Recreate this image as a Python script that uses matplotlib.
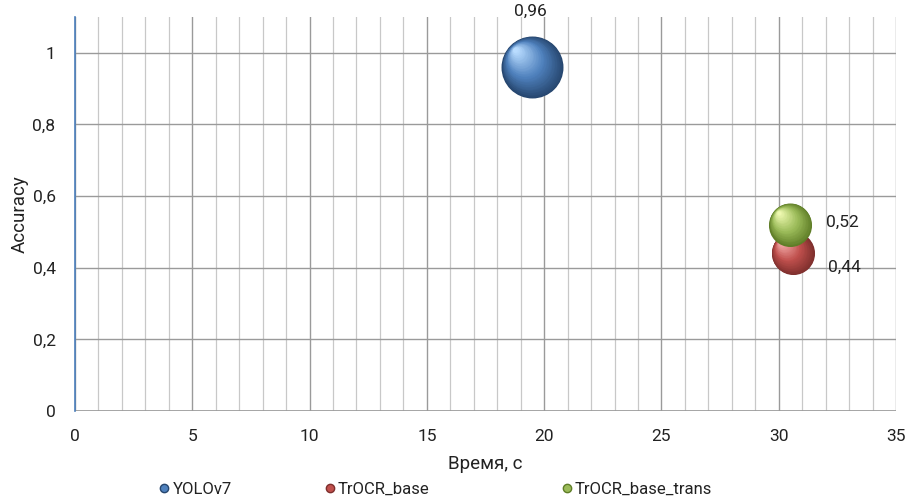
import numpy as np
import matplotlib.pyplot as plt
import matplotlib.transforms as mtransforms
from matplotlib.colors import to_rgb
from matplotlib.lines import Line2D
from matplotlib.ticker import FuncFormatter, MultipleLocator

plt.rcParams['font.family'] = ['Roboto', 'DejaVu Sans']

# models: time (s), accuracy, bubble size
models = ['YOLOv7', 'TrOCR_base', 'TrOCR_base_trans']
time_s = [19.5, 30.6, 30.5]
accuracy = [0.96, 0.44, 0.52]
bubble = [1990, 960, 960]

base_col = ['#4f81bd', '#c0504d', '#9bbb59']
dark_col = ['#26466e', '#7e2f2d', '#5f7d27']
light_col = ['#b9dcff', '#f6b0ae', '#eef9b0']


def mix(c1, c2, t):
    a, b = np.array(to_rgb(c1)), np.array(to_rgb(c2))
    return tuple(a + (b - a) * t)


fig = plt.figure(figsize=(9.12, 4.99), dpi=100)
ax = fig.add_axes([0.0822, 0.1764, 0.9003, 0.7896])

ax.set_xlim(0, 35)
ax.set_ylim(0, 1.1)
ax.xaxis.set_major_locator(MultipleLocator(5))
ax.xaxis.set_minor_locator(MultipleLocator(1))
ax.yaxis.set_major_locator(MultipleLocator(0.2))
ax.grid(which='minor', axis='x', color='#c8c8c8', lw=0.9)
ax.grid(which='major', axis='x', color='#9a9a9a', lw=1.0)
ax.grid(which='major', axis='y', color='#9a9a9a', lw=1.0)
ax.set_axisbelow(True)
ax.tick_params(which='both', length=0)
ax.tick_params(axis='x', labelsize=12.5, colors='#222222', pad=13)
ax.tick_params(axis='y', labelsize=12.5, colors='#222222', pad=14)

ax.yaxis.set_major_formatter(FuncFormatter(
    lambda v, p: ('%.1f' % v).rstrip('0').rstrip('.').replace('.', ',')))

for side in ['top', 'right', 'bottom']:
    ax.spines[side].set_visible(False)
ax.spines['left'].set_color('#4a7ebb')
ax.spines['left'].set_linewidth(1.2)
ax.axhline(0, color='#9a9a9a', lw=1.2, zorder=1)

ax.set_xlabel('Время, с', fontsize=13.5, color='#222222', labelpad=8)
ax.set_ylabel('Accuracy', fontsize=13.5, color='#222222', labelpad=3)

# shaded spheres: stacked discs shrinking toward an upper-left highlight
n = 40
for i in range(len(models)):
    r_pt = np.sqrt(bubble[i]) / 2
    for k in range(n):
        t = k / (n - 1)
        size = bubble[i] * (1 - 0.92 * t) ** 2
        r_k = np.sqrt(size) / 2
        shift = (r_pt - r_k) * 0.75
        off = mtransforms.offset_copy(ax.transData, fig=fig,
                                      x=-shift * 0.8, y=shift * 0.8, units='points')
        if t < 0.45:
            col = mix(dark_col[i], base_col[i], t / 0.45)
        else:
            col = mix(base_col[i], light_col[i], (t - 0.45) / 0.55)
        ax.scatter(time_s[i], accuracy[i], s=size, color=col, lw=0,
                   transform=off, zorder=3 + i * 0.01 + t * 0.001)

# data labels
lab = [(-0.1, 0.155, 'center'), (1.5, -0.04, 'left'), (1.5, 0.007, 'left')]
for i in range(len(models)):
    dx, dy, ha = lab[i]
    ax.text(time_s[i] + dx, accuracy[i] + dy, ('%.2f' % accuracy[i]).replace('.', ','),
            fontsize=12.5, color='#222222', ha=ha, va='center', zorder=5)

# legend entries placed one by one along the bottom
leg_x = [0.173, 0.354, 0.614]
for i in range(len(models)):
    h = Line2D([], [], marker='o', ls='', markersize=6,
               markerfacecolor=base_col[i], markeredgecolor=dark_col[i])
    fig.legend([h], [models[i]], loc='center left', bbox_to_anchor=(leg_x[i], 0.02),
               frameon=False, fontsize=12, handletextpad=0.1, handlelength=0.8,
               borderpad=0, borderaxespad=0, labelcolor='#222222')

fig.savefig('out.png', dpi=100)
